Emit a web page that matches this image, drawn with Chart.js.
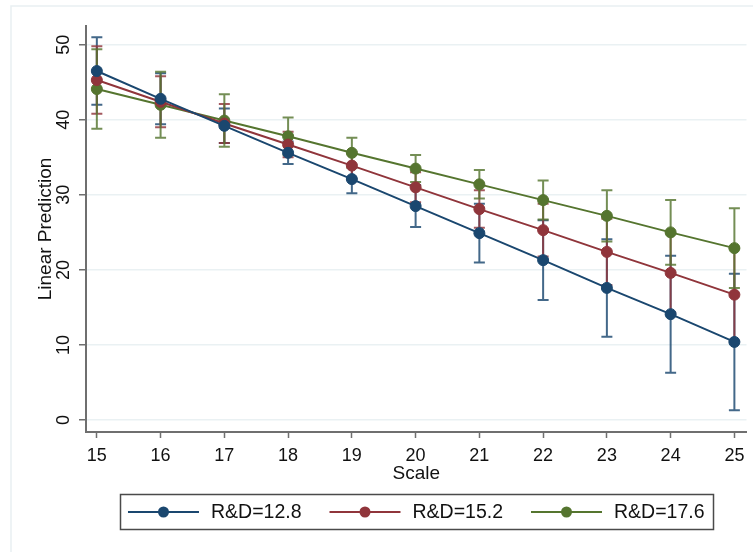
<!DOCTYPE html>
<html>
<head>
<meta charset="utf-8">
<script src="https://cdn.jsdelivr.net/npm/chart.js@4.4.1/dist/chart.umd.min.js"></script>
<style>
  html, body { margin: 0; padding: 0; background: #ffffff; }
  canvas { display: block; }
</style>
</head>
<body>
<canvas id="chart" width="753" height="552"></canvas>
<script>
// Predictive margins of the linear prediction over Scale, at three R&D levels
const scaleValues = [15, 16, 17, 18, 19, 20, 21, 22, 23, 24, 25];
const yTickValues = [0, 10, 20, 30, 40, 50];
const seriesLabels = ['R&D=12.8', 'R&D=15.2', 'R&D=17.6'];

// point estimates
const rd128Pred = [46.5, 42.8, 39.2, 35.6, 32.1, 28.5, 24.9, 21.3, 17.6, 14.1, 10.4];
const rd152Pred = [45.3, 42.4, 39.5, 36.7, 33.9, 31.0, 28.1, 25.3, 22.4, 19.6, 16.7];
const rd176Pred = [44.1, 42.0, 39.9, 37.8, 35.6, 33.5, 31.4, 29.3, 27.2, 25.0, 22.9];

// half-widths of the 95% confidence intervals
const rd128Ci = [4.5, 3.4, 2.3, 1.5, 1.9, 2.8, 3.9, 5.3, 6.5, 7.8, 9.1];
const rd152Ci = [4.5, 3.4, 2.6, 1.7, 1.8, 2.0, 2.5, 3.5, 4.4, 5.3, 6.2];
const rd176Ci = [5.3, 4.4, 3.5, 2.5, 2.0, 1.8, 1.9, 2.6, 3.4, 4.3, 5.3];

const seriesColors = ['#1a476f', '#90353b', '#55752f'];
const barColors = ['rgba(26,71,111,0.82)', 'rgba(144,53,59,0.82)', 'rgba(85,117,47,0.82)'];
const predictions = [rd128Pred, rd152Pred, rd176Pred];
const intervals = [rd128Ci, rd152Ci, rd176Ci];

const FONT = "'Liberation Sans', Arial, Helvetica, sans-serif";
const AXIS_GRAY = '#6f6f6f';

const datasets = predictions.map((pred, k) => ({
  label: seriesLabels[k],
  data: scaleValues.map((x, i) => ({ x: x, y: pred[i] })),
  borderColor: seriesColors[k],
  backgroundColor: seriesColors[k],
  pointBackgroundColor: seriesColors[k],
  pointBorderColor: seriesColors[k],
  borderWidth: 2,
  pointRadius: 5.5,
  pointBorderWidth: 1,
  pointHoverRadius: 5.5,
  tension: 0,
  fill: false
}));

// page background and the faint outer frame
const frame = {
  id: 'frame',
  beforeDraw(chart) {
    const ctx = chart.ctx;
    ctx.save();
    ctx.fillStyle = '#ffffff';
    ctx.fillRect(0, 0, chart.width, chart.height);
    ctx.strokeStyle = '#e9f0f2';
    ctx.lineWidth = 1.5;
    ctx.beginPath();
    ctx.moveTo(11, chart.height + 5);
    ctx.lineTo(11, 6);
    ctx.lineTo(chart.width + 5, 6);
    ctx.stroke();
    ctx.restore();
  }
};

// capped confidence-interval spikes under the connected lines
const errorBars = {
  id: 'errorBars',
  beforeDatasetsDraw(chart) {
    const { ctx, scales: { x, y } } = chart;
    const cap = 5.5;
    chart.data.datasets.forEach((ds, k) => {
      ctx.save();
      ctx.strokeStyle = barColors[k];
      ctx.lineWidth = 2;
      ds.data.forEach((p, i) => {
        const px = x.getPixelForValue(p.x);
        const hi = y.getPixelForValue(p.y + intervals[k][i]);
        const lo = y.getPixelForValue(p.y - intervals[k][i]);
        ctx.beginPath();
        ctx.moveTo(px, hi); ctx.lineTo(px, lo);
        ctx.moveTo(px - cap, hi); ctx.lineTo(px + cap, hi);
        ctx.moveTo(px - cap, lo); ctx.lineTo(px + cap, lo);
        ctx.stroke();
      });
      ctx.restore();
    });
  }
};

// boxed legend row below the x axis title
const boxLegend = {
  id: 'boxLegend',
  afterDraw(chart) {
    const ctx = chart.ctx;
    const area = chart.chartArea;
    const fontSize = 19.5;
    const symbolW = 71, symbolGap = 12, itemGap = 28, padX = 8;
    const centerY = 512, boxTop = 494.5, boxH = 35;
    ctx.save();
    ctx.font = fontSize + 'px ' + FONT;
    const widths = seriesLabels.map(t => ctx.measureText(t).width);
    let total = 0;
    widths.forEach((w, i) => { total += symbolW + symbolGap + w + (i ? itemGap : 0); });
    const cx = (area.left + area.right) / 2;
    let xPos = cx - total / 2;
    ctx.strokeStyle = '#4a4a4a';
    ctx.lineWidth = 1.5;
    ctx.strokeRect(Math.round(xPos - padX) + 0.5, boxTop, Math.round(total + 2 * padX), boxH);
    seriesLabels.forEach((label, k) => {
      ctx.strokeStyle = seriesColors[k];
      ctx.lineWidth = 2;
      ctx.beginPath();
      ctx.moveTo(xPos, centerY);
      ctx.lineTo(xPos + symbolW, centerY);
      ctx.stroke();
      ctx.fillStyle = seriesColors[k];
      ctx.beginPath();
      ctx.arc(xPos + symbolW / 2, centerY, 5.5, 0, Math.PI * 2);
      ctx.fill();
      ctx.fillStyle = '#111111';
      ctx.textAlign = 'left';
      ctx.textBaseline = 'middle';
      ctx.fillText(label, xPos + symbolW + symbolGap, centerY + 1);
      xPos += symbolW + symbolGap + widths[k] + itemGap;
    });
    ctx.restore();
  }
};

new Chart(document.getElementById('chart'), {
  type: 'line',
  data: { datasets: datasets },
  plugins: [frame, errorBars, boxLegend],
  options: {
    responsive: false,
    animation: false,
    devicePixelRatio: 1,
    layout: { padding: { left: 0, top: 26, right: 5, bottom: 67 } },
    plugins: {
      legend: { display: false },
      tooltip: { enabled: false }
    },
    scales: {
      x: {
        type: 'linear',
        min: 14.83,
        max: 25.19,
        afterBuildTicks(scale) { scale.ticks = scaleValues.map(v => ({ value: v })); },
        afterFit(scale) { scale.height = 53; },
        border: { color: AXIS_GRAY, width: 2 },
        grid: { drawOnChartArea: false, drawTicks: true, tickLength: 6, tickColor: AXIS_GRAY, tickWidth: 1.5 },
        ticks: {
          padding: 7,
          maxRotation: 0,
          autoSkip: false,
          color: '#111111',
          font: { family: FONT, size: 18 },
          callback: v => String(v)
        },
        title: {
          display: true,
          text: 'Scale',
          color: '#111111',
          font: { family: FONT, size: 19 },
          padding: { top: 0, bottom: 0 }
        }
      },
      y: {
        type: 'linear',
        min: -1.6,
        max: 52.5,
        afterBuildTicks(scale) { scale.ticks = yTickValues.map(v => ({ value: v })); },
        afterFit(scale) { scale.width = 86; },
        border: { color: AXIS_GRAY, width: 2 },
        grid: { color: '#eaf1f3', lineWidth: 1.5, drawTicks: true, tickLength: 7, tickColor: AXIS_GRAY, tickWidth: 1.5 },
        ticks: {
          padding: 5,
          minRotation: 90,
          maxRotation: 90,
          crossAlign: 'center',
          autoSkip: false,
          color: '#111111',
          font: { family: FONT, size: 18 },
          callback: v => String(v)
        },
        title: {
          display: true,
          text: 'Linear Prediction',
          color: '#111111',
          font: { family: FONT, size: 19 },
          padding: { top: 34, bottom: 0 }
        }
      }
    }
  }
});
</script>
</body>
</html>
